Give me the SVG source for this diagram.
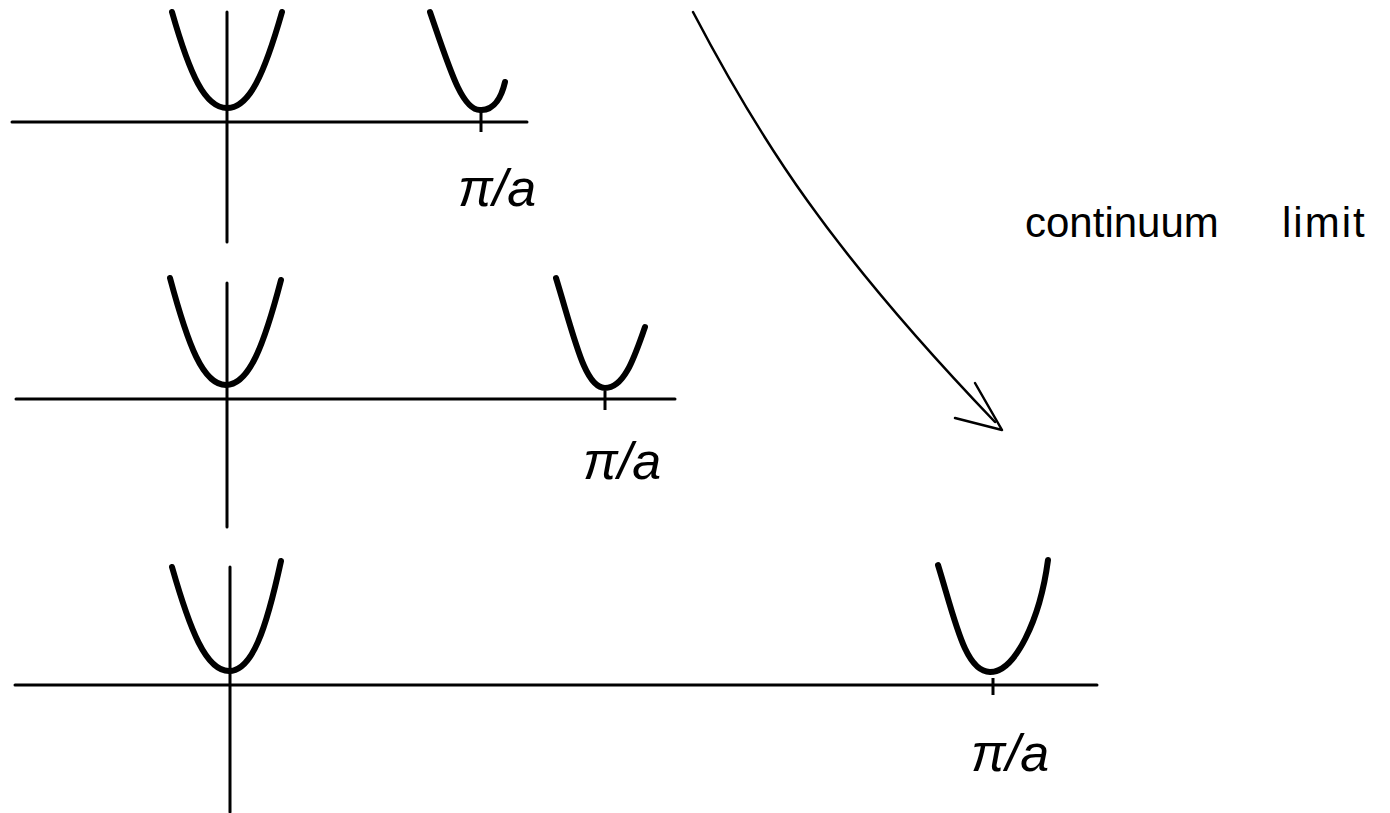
<svg xmlns="http://www.w3.org/2000/svg" width="1390" height="813" viewBox="0 0 1390 813">
<style>
.axis{stroke:#000;stroke-width:3;fill:none;stroke-linecap:round}
.band{stroke:#000;stroke-width:6;fill:none;stroke-linecap:round;stroke-linejoin:round}
.tick{stroke:#000;stroke-width:3;fill:none}
.lbl{font-family:"Liberation Sans",Arial,sans-serif;font-size:52px;fill:#000;font-style:italic}
.note{font-family:"Liberation Sans",Arial,sans-serif;font-size:42px;fill:#000}
.arr{stroke:#000;stroke-width:2.5;fill:none;stroke-linecap:round;stroke-linejoin:round}
</style>
<rect width="1390" height="813" fill="#fff"/>
<g id="panel1">
<line class="axis" x1="12" y1="122" x2="527" y2="122"/>
<line class="axis" x1="227" y1="12" x2="227" y2="242"/>
<path class="band" d="M172,12 C190,75 205,108 227,108 C249,108 264,75 282,12"/>
<path class="band" d="M430,12 C450,70 462,110 480,110 C495,111 502,95 505,82"/>
<line class="tick" x1="481" y1="112" x2="481" y2="132"/>
<text class="lbl" x="497" y="206" text-anchor="middle">π/a</text>
</g>
<g id="panel2">
<line class="axis" x1="16" y1="399" x2="675" y2="399"/>
<line class="axis" x1="227" y1="283" x2="227" y2="527"/>
<path class="band" d="M170,278 C188,345 203,385 226,385 C249,385 264,345 281,280"/>
<path class="band" d="M556,278 C575,340 585,388 605,388 C625,388 635,355 645,327"/>
<line class="tick" x1="605" y1="391" x2="605" y2="410"/>
<text class="lbl" x="622" y="479" text-anchor="middle">π/a</text>
</g>
<g id="panel3">
<line class="axis" x1="15" y1="685" x2="1097" y2="685"/>
<line class="axis" x1="230" y1="567" x2="230" y2="812"/>
<path class="band" d="M172,567 C190,630 206,671 229,671 C252,671 266,630 281,561"/>
<path class="band" d="M938,565 C955,620 965,672 990,672 C1015,672 1040,620 1048,560"/>
<line class="tick" x1="993" y1="678" x2="993" y2="695"/>
<text class="lbl" x="1010" y="771" text-anchor="middle">π/a</text>
</g>
<g id="connectors">
<path class="arr" d="M693,12 C760,140 830,250 995,422"/>
<path class="arr" d="M975,383 L1002,430 L955,418"/>
</g>
<g id="label">
<text class="note" y="237"><tspan x="1025">continuum </tspan><tspan x="1282" letter-spacing="2">limit</tspan></text>
</g>
</svg>
